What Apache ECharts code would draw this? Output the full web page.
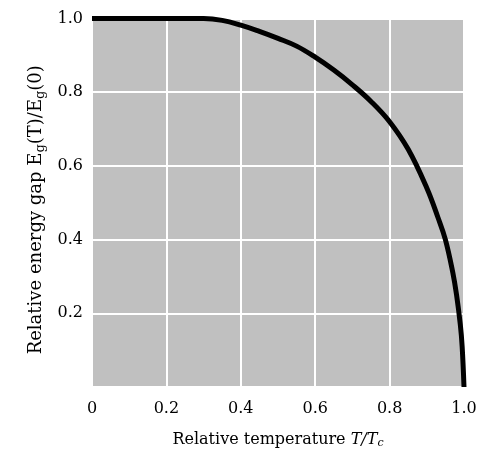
<!DOCTYPE html>
<html><head><meta charset="utf-8">
<script src="https://cdn.jsdelivr.net/npm/echarts@6/dist/echarts.min.js"></script>
<style>html,body{margin:0;padding:0;background:#fff}#c{width:483px;height:457px}</style>
</head><body><div id="c"></div>
<script>
const tRel = [0, 0.1, 0.2, 0.3, 0.35, 0.4, 0.45, 0.5, 0.55, 0.6, 0.65, 0.7, 0.75, 0.8, 0.85, 0.9, 0.93, 0.95, 0.97, 0.98, 0.99, 0.995, 1.0];
const gapRel = [1.0, 1.0, 1.0, 1.0, 0.995, 0.982, 0.965, 0.946, 0.925, 0.895, 0.86, 0.82, 0.775, 0.72, 0.645, 0.54, 0.46, 0.40, 0.31, 0.25, 0.17, 0.11, 0];
const xTicks = [0, 0.2, 0.4, 0.6, 0.8, 1.0];
const yTicks = [0.2, 0.4, 0.6, 0.8, 1.0];

const serif = '"DejaVu Serif", "Liberation Serif", serif';
const chart = echarts.init(document.getElementById('c'));
chart.setOption({
  animation: false,
  grid: { left: 92, right: 19, top: 18.5, bottom: 70, show: true, backgroundColor: '#c0c0c0', borderWidth: 0 },
  xAxis: {
    type: 'value', min: 0, max: 1, interval: 0.2,
    axisLine: { show: false }, axisTick: { show: false },
    splitLine: { show: true, lineStyle: { color: '#ffffff', width: 2 } },
    axisLabel: { margin: 14, color: '#000', fontFamily: serif, fontSize: 16,
      formatter: v => { const m = xTicks.find(t => Math.abs(t - v) < 1e-6); return m === undefined ? '' : (m === 0 ? '0' : m.toFixed(1)); } },
    name: '{a|Relative temperature }{i|T/T}{s|c}', nameLocation: 'middle', nameGap: 44,
    nameTextStyle: { rich: {
      a: { fontFamily: serif, fontSize: 16, color: '#000' },
      i: { fontFamily: serif, fontSize: 16, fontStyle: 'italic', color: '#000' },
      s: { fontFamily: serif, fontSize: 11, fontStyle: 'italic', color: '#000', verticalAlign: 'bottom', padding: [7, 0, 0, 0] }
    } }
  },
  yAxis: {
    type: 'value', min: 0, max: 1, interval: 0.2,
    axisLine: { show: false }, axisTick: { show: false },
    splitLine: { show: true, lineStyle: { color: '#ffffff', width: 2 } },
    axisLabel: { margin: 9, color: '#000', fontFamily: serif, fontSize: 16,
      formatter: v => { const m = yTicks.find(t => Math.abs(t - v) < 1e-6); return m === undefined ? '' : m.toFixed(1); } },
    name: '{a|Relative energy gap E}{s|g}{a|(T)/E}{s|g}{a|(0)}', nameLocation: 'middle', nameGap: 44, nameRotate: 90,
    nameTextStyle: { padding: [0, 14, 0, 0], rich: {
      a: { fontFamily: serif, fontSize: 18, color: '#000' },
      s: { fontFamily: serif, fontSize: 13, color: '#000', verticalAlign: 'bottom', padding: [7, 0, 0, 0] }
    } }
  },
  series: [{
    type: 'line', smooth: 0.4, showSymbol: false,
    data: tRel.map((t, i) => [t, gapRel[i]]),
    lineStyle: { color: '#000', width: 5 }
  }]
});
</script></body></html>
